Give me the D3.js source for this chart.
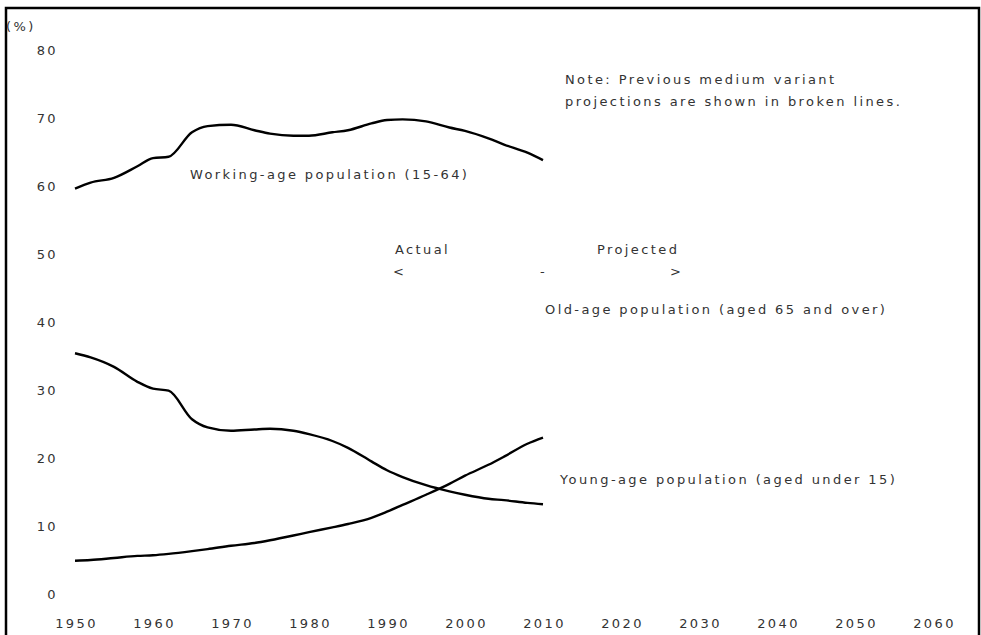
<!DOCTYPE html>
<html>
<head>
<meta charset="utf-8">
<script src="https://cdn.jsdelivr.net/npm/d3@7"></script>
<style>
  body { margin: 0; background: #fff; }
  text { font-family: "DejaVu Sans", "Liberation Sans", sans-serif; font-size: 13px; fill: #333; letter-spacing: 2.4px; }
  .line { fill: none; stroke: #000; stroke-width: 2.4; }
</style>
</head>
<body>
<div id="plotPlaceholder1"></div>
<script>
const years = [1950,1952,1955,1958,1960,1962,1965,1967,1970,1973,1975,1978,1980,1983,1985,1988,1990,1992,1995,1998,2000,2003,2005,2008,2010]
const working = [59.6,60.5,61.2,62.9,64.1,64.3,67.9,68.8,69.0,68.2,67.7,67.4,67.4,67.9,68.2,69.2,69.7,69.8,69.5,68.6,68.1,67.0,66.1,64.9,63.8]
const young = [35.4,34.8,33.4,31.2,30.2,29.9,25.7,24.5,24.0,24.2,24.3,24.0,23.5,22.5,21.5,19.5,18.2,17.2,16.0,15.1,14.6,14.0,13.8,13.4,13.2]
const old = [4.9,5.0,5.3,5.6,5.7,5.9,6.3,6.6,7.1,7.5,7.9,8.6,9.1,9.8,10.3,11.2,12.1,13.1,14.6,16.2,17.4,19.0,20.2,22.1,23.0]
const xTicks = [1950,1960,1970,1980,1990,2000,2010,2020,2030,2040,2050,2060]
const yTicks = [0,10,20,30,40,50,60,70,80]

const W = 981, H = 635

const x = d3.scaleLinear().domain([1950, 2060]).range([75, 933])
const y = d3.scaleLinear().domain([0, 80]).range([594, 50])

const svg = d3.select("#plotPlaceholder1").append("svg")
    .attr("width", W)
    .attr("height", H)

// frame
svg.append("path")
    .attr("d", `M6,${H} L6,8 L979,8 L979,${H}`)
    .attr("fill", "none")
    .attr("stroke", "#000")
    .attr("stroke-width", 2.5)

const yAxis = d3.axisLeft(y).tickValues(yTicks).tickSize(0).tickPadding(0)
const xAxis = d3.axisBottom(x).tickValues(xTicks).tickSize(0).tickFormat(d3.format("d"))

const gy = svg.append("g").attr("transform", "translate(58,0)").call(yAxis)
gy.select(".domain").remove()
gy.selectAll("text").attr("font-size", null).attr("font-family", null)

const gx = svg.append("g").attr("transform", "translate(1,616)").call(xAxis)
gx.select(".domain").remove()
gx.selectAll("text").attr("font-size", null).attr("font-family", null)

svg.append("text").attr("x", 6).attr("y", 31).text("(%)")

const line = d3.line()
    .curve(d3.curveMonotoneX)
    .x((d) => x(d.year))
    .y((d) => y(d.v))

const series = [working, young, old].map((vals) =>
    years.map((yr, i) => ({year: yr, v: vals[i]})))

svg.selectAll("path.line")
    .data(series)
    .enter().append("path")
    .attr("class", "line")
    .attr("d", (d) => line(d))

const labels = [
    {t: "Note: Previous medium variant", x: 565, y: 84},
    {t: "projections are shown in broken lines.", x: 565, y: 106},
    {t: "Working-age population (15-64)", x: 190, y: 179},
    {t: "Actual", x: 395, y: 254},
    {t: "Projected", x: 597, y: 254},
    {t: "<", x: 393, y: 276},
    {t: "-", x: 540, y: 276},
    {t: ">", x: 670, y: 276},
    {t: "Old-age population (aged 65 and over)", x: 545, y: 314},
    {t: "Young-age population (aged under 15)", x: 560, y: 484}
]

svg.selectAll("text.lbl")
    .data(labels)
    .enter().append("text")
    .attr("class", "lbl")
    .attr("x", (d) => d.x)
    .attr("y", (d) => d.y)
    .text((d) => d.t)
</script>
</body>
</html>
